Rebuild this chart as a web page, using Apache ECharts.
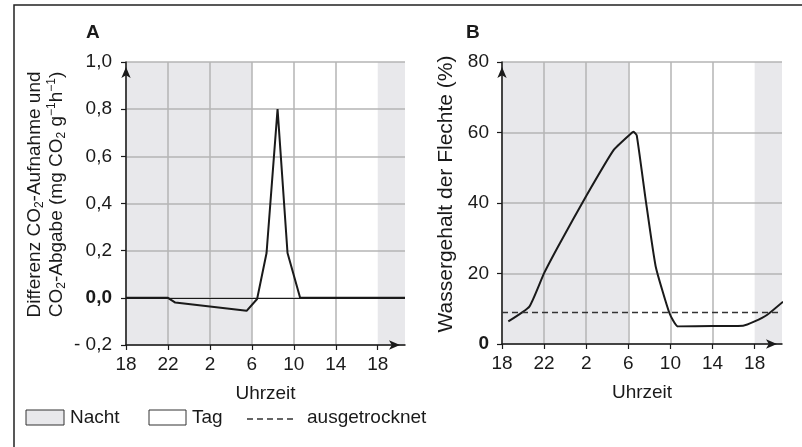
<!DOCTYPE html>
<html>
<head>
<meta charset="utf-8">
<script src="https://cdn.jsdelivr.net/npm/echarts@6/dist/echarts.min.js"></script>
<style>
  html, body { margin: 0; padding: 0; background: #fff; }
  #chart { width: 802px; height: 447px; }
</style>
</head>
<body>
<div id="chart"></div>
<script>
// Stunden ab 18 Uhr fortlaufend gezählt (26 = 2 Uhr, 30 = 6 Uhr ...)
const hourTicks = [18, 22, 26, 30, 34, 38, 42]
const nightRanges = [[18, 30], [42, 44.6]]

// A: Differenz CO2-Aufnahme und CO2-Abgabe
const hoursA = [18, 22, 22.7, 29.5, 30.5, 31.4, 32.45, 33.4, 34.6, 44.6]
const valuesA = [0, 0, -0.02, -0.055, -0.005, 0.19, 0.8, 0.19, 0, 0]
const ticksA = [-0.2, 0, 0.2, 0.4, 0.6, 0.8, 1.0]

// B: Wassergehalt der Flechte (%)
const hoursB = [18.6, 20.6, 22, 23.5, 26, 28.6, 30.1, 30.5, 30.8, 31.65, 32.6, 33.9, 34.7, 38, 40.9, 42, 43.2, 44.7]
const valuesB = [6.4, 10.6, 20.1, 28.6, 42, 55, 59.3, 60.2, 59.2, 40.9, 22, 8.8, 5, 5.1, 5.2, 6.4, 8.3, 12]
const ticksB = [0, 20, 40, 60, 80]
const dryLevel = 9

const FONT = "'Liberation Sans', Arial, sans-serif"
const INK = '#1a1a1a'
const NIGHT = '#e8e8eb'
const GRID = '#b4b4b4'

const chart = echarts.init(document.getElementById('chart'))

const axisLineStyle = {
  show: true,
  onZero: false,
  lineStyle: { color: INK, width: 1.5 },
  symbol: ['none', 'arrow'],
  symbolSize: [7, 11],
  symbolOffset: [0, -5]
}

const xAxisBase = (gridIndex) => ({
  type: 'value',
  gridIndex,
  z: 1.5,
  min: 18,
  max: 44.6,
  interval: 4,
  name: 'Uhrzeit',
  nameLocation: 'middle',
  nameGap: 39,
  nameTextStyle: { fontFamily: FONT, fontSize: 19, color: INK },
  axisLine: axisLineStyle,
  axisTick: { show: true, length: 5, lineStyle: { color: INK, width: 1.2 }, customValues: hourTicks },
  axisLabel: {
    customValues: hourTicks,
    margin: 10,
    fontFamily: FONT,
    fontSize: 19,
    color: INK,
    formatter: (v) => String(Math.round(v) % 24)
  },
  splitLine: { show: true, showMaxLine: false, lineStyle: { color: GRID, width: 1.5 } }
})

const yRich = {
  n: { fontFamily: FONT, fontSize: 19, lineHeight: 22, color: INK },
  s: { fontFamily: FONT, fontSize: 12, lineHeight: 12, verticalAlign: 'bottom', color: INK },
  p: { fontFamily: FONT, fontSize: 12, lineHeight: 12, verticalAlign: 'top', color: INK }
}

const nightArea = (idx) => ({
  type: 'line',
  xAxisIndex: idx,
  yAxisIndex: idx,
  silent: true,
  symbol: 'none',
  lineStyle: { width: 0 },
  data: [],
  markArea: {
    silent: true,
    z: 1,
    itemStyle: { color: NIGHT },
    data: nightRanges.map(r => [{ xAxis: r[0] }, { xAxis: r[1] }])
  }
})

const option = {
  animation: false,
  backgroundColor: '#fff',
  textStyle: { fontFamily: FONT },
  grid: [
    { left: 126, right: 397, top: 62, bottom: 102 },
    { left: 502, right: 20, top: 62, bottom: 103 }
  ],
  xAxis: [xAxisBase(0), xAxisBase(1)],
  yAxis: [
    {
      type: 'value',
      gridIndex: 0,
      z: 1.5,
      min: -0.2,
      max: 1.0,
      interval: 0.2,
      name: '{n|Differenz CO}{s|2}{n|-Aufnahme und}\n{n|CO}{s|2}{n|-Abgabe (mg CO}{s|2}{n| g}{p|−1}{n|h}{p|−1}{n|)}',
      nameLocation: 'middle',
      nameRotate: 90,
      nameGap: 58,
      nameTextStyle: { rich: yRich, padding: [0, 0, 0, 18] },
      axisLine: axisLineStyle,
      axisTick: { show: true, length: 5, lineStyle: { color: INK, width: 1.2 }, customValues: ticksA },
      axisLabel: {
        customValues: ticksA,
        margin: 14,
        fontFamily: FONT,
        fontSize: 19,
        color: INK,
        formatter: (v) => {
          const s = Math.abs(v).toFixed(1).replace('.', ',')
          if (Math.abs(v) < 1e-9) return '{b|0,0}'
          return v < 0 ? '- ' + s : s
        },
        rich: { b: { fontFamily: FONT, fontSize: 19, fontWeight: 'bold', color: INK } }
      },
      splitLine: { show: true, lineStyle: { color: GRID, width: 1.5 } }
    },
    {
      type: 'value',
      gridIndex: 1,
      z: 1.5,
      min: 0,
      max: 80,
      interval: 20,
      name: 'Wassergehalt der Flechte (%)',
      nameLocation: 'middle',
      nameRotate: 90,
      nameGap: 45,
      nameTextStyle: { fontFamily: FONT, fontSize: 21, color: INK, padding: [0, 0, 0, 18] },
      axisLine: axisLineStyle,
      axisTick: { show: true, length: 5, lineStyle: { color: INK, width: 1.2 }, customValues: ticksB },
      axisLabel: {
        customValues: ticksB,
        margin: 13,
        fontFamily: FONT,
        fontSize: 19,
        color: INK,
        formatter: (v) => v === 0 ? '{b|0}' : String(v),
        rich: { b: { fontFamily: FONT, fontSize: 19, fontWeight: 'bold', color: INK } }
      },
      splitLine: { show: true, lineStyle: { color: GRID, width: 1.5 } }
    }
  ],
  series: [
    nightArea(0),
    nightArea(1),
    {
      name: 'A',
      type: 'line',
      xAxisIndex: 0,
      yAxisIndex: 0,
      z: 3,
      symbol: 'none',
      lineStyle: { color: INK, width: 2 },
      data: hoursA.map((h, i) => [h, valuesA[i]]),
      markLine: {
        silent: true,
        symbol: 'none',
        label: { show: false },
        lineStyle: { color: INK, width: 1, type: 'solid' },
        data: [{ yAxis: 0 }]
      }
    },
    {
      name: 'B',
      type: 'line',
      xAxisIndex: 1,
      yAxisIndex: 1,
      z: 3,
      symbol: 'none',
      smooth: 0.15,
      lineStyle: { color: INK, width: 2 },
      data: hoursB.map((h, i) => [h, valuesB[i]]),
      markLine: {
        silent: true,
        symbol: 'none',
        label: { show: false },
        lineStyle: { color: '#333', width: 1.3, type: [6, 4] },
        data: [{ yAxis: dryLevel }]
      }
    }
  ],
  graphic: [
    // Rahmen
    { type: 'polyline', shape: { points: [[14, 447], [14, 5], [802, 5]] }, style: { stroke: '#222', lineWidth: 1.5, fill: null } },
    { type: 'text', left: 86, top: 23, style: { text: 'A', font: `bold 19px ${FONT}`, fill: INK } },
    { type: 'text', left: 466, top: 23, style: { text: 'B', font: `bold 19px ${FONT}`, fill: INK } },
    // Legende
    { type: 'rect', shape: { x: 26, y: 410, width: 38, height: 15 }, style: { fill: NIGHT, stroke: '#333', lineWidth: 1 } },
    { type: 'text', left: 70, top: 408, style: { text: 'Nacht', font: `19px ${FONT}`, fill: INK } },
    { type: 'rect', shape: { x: 149, y: 410, width: 37, height: 15 }, style: { fill: '#fff', stroke: '#333', lineWidth: 1 } },
    { type: 'text', left: 192, top: 408, style: { text: 'Tag', font: `19px ${FONT}`, fill: INK } },
    { type: 'line', shape: { x1: 247, y1: 419, x2: 294, y2: 419 }, style: { stroke: '#333', lineWidth: 1.3, lineDash: [6, 4] } },
    { type: 'text', left: 307, top: 408, style: { text: 'ausgetrocknet', font: `19px ${FONT}`, fill: INK } }
  ]
}

chart.setOption(option)
</script>
</body>
</html>
